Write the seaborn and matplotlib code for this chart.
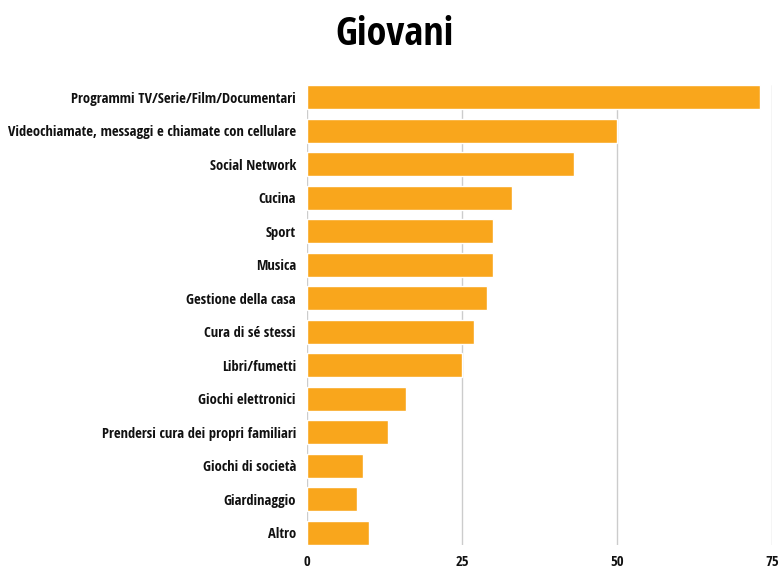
import matplotlib
matplotlib.use("Agg")
import matplotlib.pyplot as plt
import seaborn as sns
import pandas as pd

categories = [
    "Programmi TV/Serie/Film/Documentari",
    "Videochiamate, messaggi e chiamate con cellulare",
    "Social Network",
    "Cucina",
    "Sport",
    "Musica",
    "Gestione della casa",
    "Cura di sé stessi",
    "Libri/fumetti",
    "Giochi elettronici",
    "Prendersi cura dei propri familiari",
    "Giochi di società",
    "Giardinaggio",
    "Altro",
]
values = [73, 50, 43, 33, 30, 30, 29, 27, 25, 16, 13, 9, 8, 10]
x_ticks = [0, 25, 50, 75]

df = pd.DataFrame({"categoria": categories, "valore": values})

sns.set_theme(style="white")
plt.rcParams["font.family"] = ["Open Sans Condensed", "DejaVu Sans"]

fig = plt.figure(figsize=(7.81, 5.69), dpi=100)
ax = fig.add_axes([307 / 781, 1 - 545 / 569, (772 - 307) / 781, (545 - 85) / 569])

sns.barplot(data=df, x="valore", y="categoria", orient="h", color="#F9A61C",
            saturation=1, width=0.72, ax=ax, zorder=3)

ax.set_xlim(0, 75)
ax.set_ylim(13.36, -0.36)
ax.set_xticks(x_ticks)
ax.set_xticklabels([str(t) for t in x_ticks], fontsize=10.5, fontweight="bold", color="#111111")
ax.set_yticks(range(len(categories)))
ax.set_yticklabels(categories, fontsize=10.5, fontweight="bold", color="#111111")
ax.tick_params(axis="x", length=0, pad=7)
ax.tick_params(axis="y", length=0, pad=8)
ax.grid(axis="x", color="#cccccc", linewidth=1, zorder=0)
ax.set_xlabel("")
ax.set_ylabel("")
for s in ax.spines.values():
    s.set_visible(False)

fig.text(0.505, 1 - 45 / 569, "Giovani", ha="center", va="baseline",
         fontsize=29, fontweight="bold", color="#000000")

fig.savefig("out.png", dpi=100)
